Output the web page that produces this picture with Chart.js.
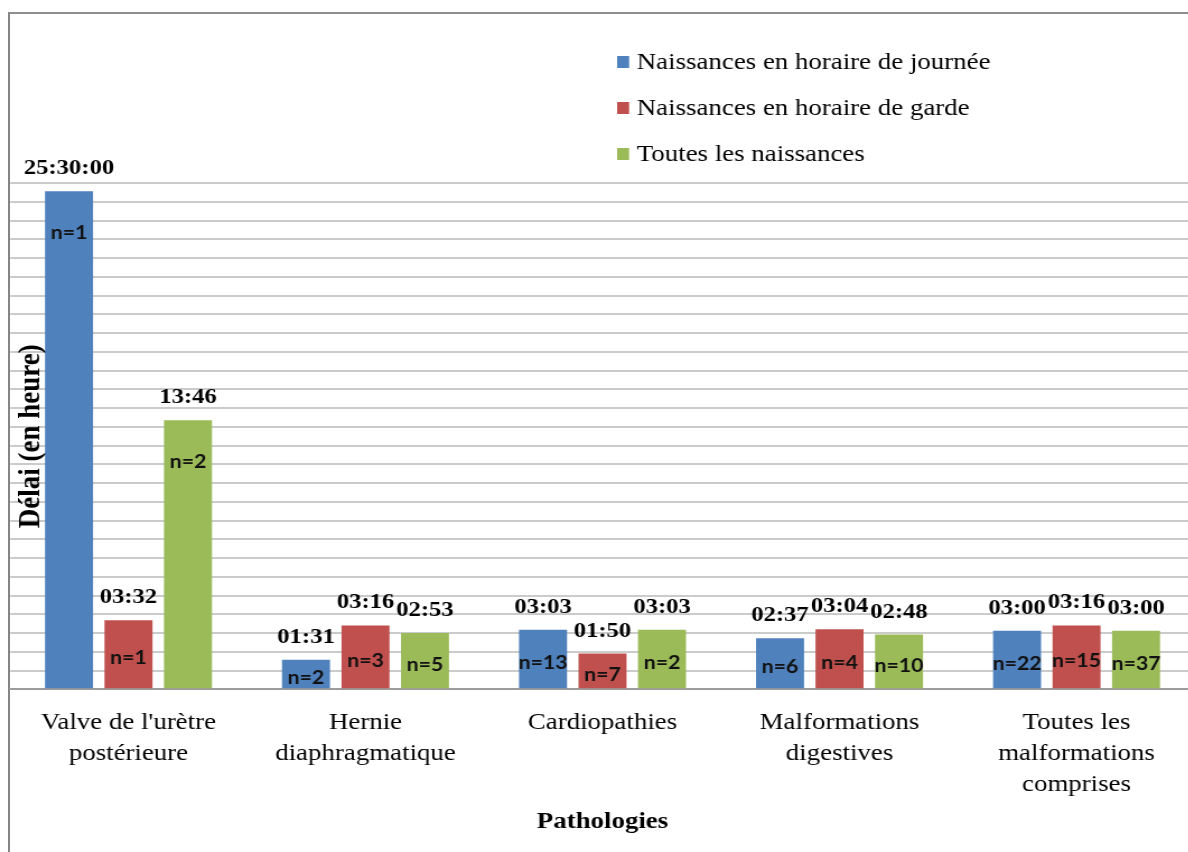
<!DOCTYPE html>
<html>
<head>
<meta charset="utf-8">
<script src="https://cdn.jsdelivr.net/npm/chart.js@4/dist/chart.umd.min.js"></script>
<style>
  html, body { margin: 0; padding: 0; background: #fff; overflow: hidden; width: 1188px; height: 852px; }
  #frame { position: absolute; left: 8px; top: 12px; width: 1190px; height: 850px;
           border-top: 2px solid #8f8f8f; border-left: 2px solid #858585; }
  #wrap { position: absolute; left: 0; top: 0; width: 1068px; height: 852px;
          transform: scaleX(1.12); transform-origin: 0 0; }
</style>
</head>
<body>
<div id="frame"></div>
<div id="wrap"><canvas id="chart" width="1068" height="852"></canvas></div>
<script>
// Délai par pathologie, valeurs en heures décimales
const categories = [
    ["Valve de l'urètre", "postérieure"],
    ["Hernie", "diaphragmatique"],
    ["Cardiopathies"],
    ["Malformations", "digestives"],
    ["Toutes les", "malformations", "comprises"],
];
const seriesNames = [
    'Naissances en horaire de journée',
    'Naissances en horaire de garde',
    'Toutes les naissances',
];
const jourHours   = [25.5, 1.52, 3.05, 2.62, 3.0];
const gardeHours  = [3.53, 3.27, 1.83, 3.07, 3.27];
const toutesHours = [13.77, 2.88, 3.05, 2.8, 3.0];

const jourTimes   = ['25:30:00', '01:31', '03:03', '02:37', '03:00'];
const gardeTimes  = ['03:32', '03:16', '01:50', '03:04', '03:16'];
const toutesTimes = ['13:46', '02:53', '03:03', '02:48', '03:00'];

const jourN   = ['n=1', 'n=2', 'n=13', 'n=6', 'n=22'];
const gardeN  = ['n=1', 'n=3', 'n=7', 'n=4', 'n=15'];
const toutesN = ['n=2', 'n=5', 'n=2', 'n=10', 'n=37'];

const COLORS = ['#4f81bd', '#c0504d', '#9bbb59'];
const SERIF = "'Liberation Serif', 'Times New Roman', serif";

function _ds(label, data, color, times, counts) {
    return { label, data, backgroundColor: color, borderWidth: 0,
             times, counts, categoryPercentage: 0.753, barPercentage: 0.807 };
}

// valeurs au-dessus des barres + effectifs dans les barres
const barLabels = {
    id: 'barLabels',
    afterDatasetsDraw(chart) {
        const ctx = chart.ctx;
        ctx.save();
        chart.data.datasets.forEach((ds, di) => {
            const meta = chart.getDatasetMeta(di);
            meta.data.forEach((bar, i) => {
                ctx.textAlign = 'center';
                ctx.fillStyle = '#000';
                ctx.textBaseline = 'alphabetic';
                ctx.font = `bold 22px ${SERIF}`;
                ctx.fillText(ds.times[i], bar.x, bar.y - 17);
                const mid = (bar.y + bar.base) / 2 + 4;
                ctx.textBaseline = 'middle';
                ctx.font = "bold 19px Lato, 'Open Sans', sans-serif";
                ctx.fillStyle = '#111';
                ctx.fillText(ds.counts[i], bar.x, Math.min(bar.y + 42, mid));
            });
        });
        ctx.restore();
    }
};

// légende en haut à droite, titre vertical
const decor = {
    id: 'decor',
    afterDraw(chart) {
        const ctx = chart.ctx;
        ctx.save();
        chart.data.datasets.forEach((ds, i) => {
            const y = 62 + i * 46;
            ctx.fillStyle = ds.backgroundColor;
            ctx.fillRect(551, y - 6, 10.7, 12);
            ctx.fillStyle = '#000';
            ctx.font = `24px ${SERIF}`;
            ctx.textAlign = 'left';
            ctx.textBaseline = 'middle';
            ctx.fillText(ds.label, 568.5, y + 1);
        });
        const ca = chart.chartArea;
        ctx.translate(27.7, (ca.top + ca.bottom) / 2);
        ctx.rotate(-Math.PI / 2);
        ctx.font = `bold 27px ${SERIF}`;
        ctx.textAlign = 'center';
        ctx.textBaseline = 'middle';
        ctx.fillText('Délai (en heure)', 0, 0);
        ctx.restore();
    }
};

new Chart(document.getElementById('chart'), {
    type: 'bar',
    data: {
        labels: categories,
        datasets: [
            _ds(seriesNames[0], jourHours, COLORS[0], jourTimes, jourN),
            _ds(seriesNames[1], gardeHours, COLORS[1], gardeTimes, gardeN),
            _ds(seriesNames[2], toutesHours, COLORS[2], toutesTimes, toutesN),
        ],
    },
    options: {
        responsive: false,
        devicePixelRatio: 1,
        animation: false,
        layout: { padding: { left: 8.9, right: 1, top: 183, bottom: 16 } },
        plugins: { legend: { display: false }, tooltip: { enabled: false } },
        scales: {
            x: {
                grid: { display: false, drawTicks: false },
                border: { display: true, color: '#9c9c9c', width: 2 },
                ticks: { color: '#000', padding: 18, maxRotation: 0, autoSkip: false,
                         font: { family: SERIF, size: 24, lineHeight: 1.29 } },
                title: { display: true, text: 'Pathologies', color: '#000',
                         padding: { top: -11, bottom: 0 },
                         font: { family: SERIF, size: 24, weight: 'bold', lineHeight: 1.2 } },
            },
            y: {
                min: 0, max: 25.92,
                ticks: { display: false, stepSize: 0.96 },
                grid: { color: '#cbcbcb', lineWidth: 2, drawTicks: false },
                border: { display: false },
            },
        },
    },
    plugins: [barLabels, decor],
});
</script>
</body>
</html>
